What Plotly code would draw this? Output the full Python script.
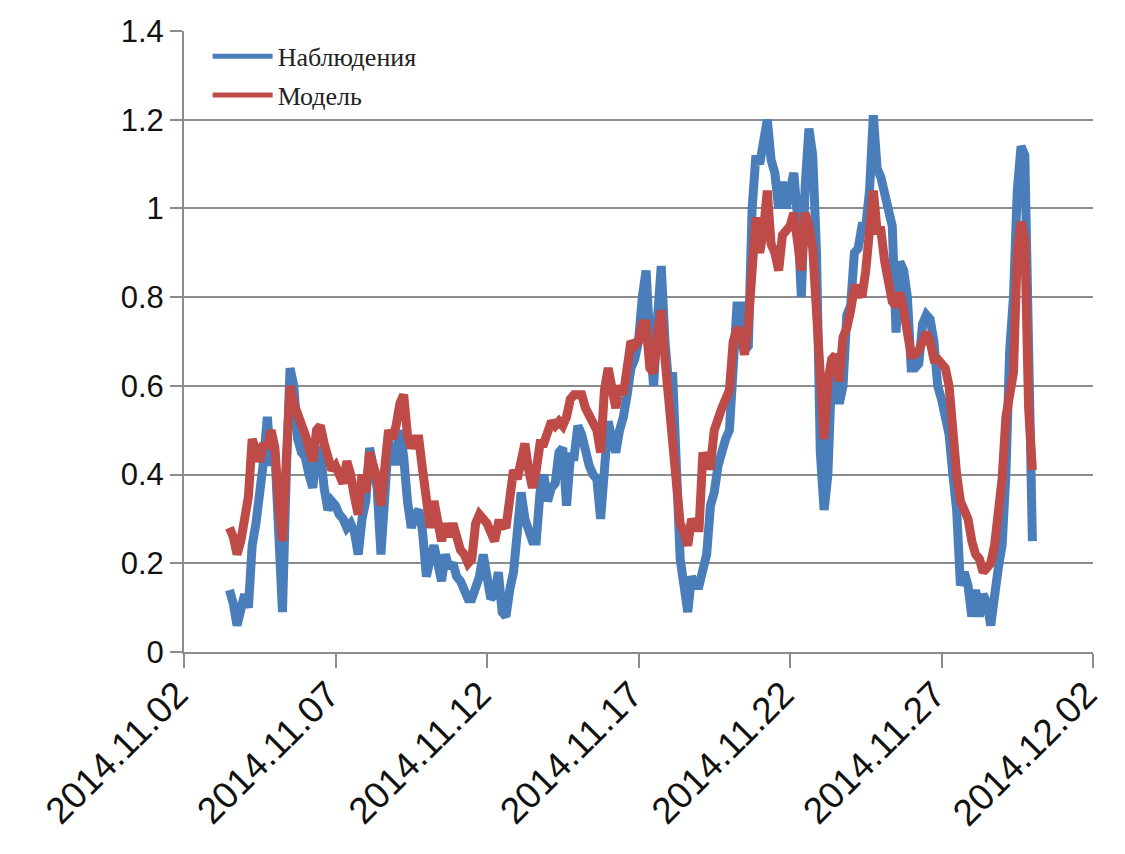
import pandas as pd
import plotly.graph_objects as go

# ---- data (3-hourly readings from the chart) ----
start_time = "2014-11-03 12:00"
step = "3h"

observations = [
    0.14, 0.11, 0.06, 0.10, 0.13, 0.10, 0.24, 0.29, 0.35, 0.43,
    0.53, 0.42, 0.45, 0.27, 0.09, 0.40, 0.64, 0.60, 0.48, 0.45,
    0.44, 0.40, 0.37, 0.46, 0.45, 0.37, 0.32, 0.34, 0.33, 0.31,
    0.30, 0.28, 0.29, 0.27, 0.22, 0.30,
    0.34, 0.46, 0.41, 0.37, 0.22, 0.33, 0.48, 0.43, 0.43, 0.50,
    0.44, 0.34, 0.28, 0.31, 0.32, 0.27, 0.17, 0.21, 0.24, 0.20,
    0.16, 0.22, 0.19, 0.20, 0.17, 0.16, 0.14, 0.12, 0.12, 0.15,
    0.17, 0.22, 0.18, 0.12, 0.13, 0.18, 0.09, 0.08, 0.14,
    0.18, 0.27, 0.36, 0.30, 0.27, 0.25, 0.25, 0.36, 0.40, 0.34,
    0.37, 0.38, 0.45, 0.46, 0.33, 0.44, 0.44, 0.51, 0.49, 0.44,
    0.42, 0.40, 0.39, 0.30, 0.42, 0.52, 0.48, 0.45, 0.50, 0.53,
    0.58, 0.64, 0.66, 0.70,
    0.80, 0.86, 0.70, 0.60, 0.75, 0.87, 0.70, 0.60, 0.63, 0.46,
    0.21, 0.15, 0.09, 0.17, 0.15, 0.15, 0.20, 0.22, 0.33, 0.36,
    0.42, 0.46, 0.48, 0.50, 0.65, 0.78, 0.78, 0.68, 0.69, 1.00,
    1.12, 1.10, 1.15, 1.20, 1.11, 1.08, 1.00, 1.06, 1.00, 1.04,
    1.08, 0.98,
    0.80, 1.05, 1.18, 1.12, 0.90, 0.45, 0.32, 0.40, 0.63, 0.62,
    0.56, 0.60, 0.76, 0.78, 0.90, 0.91, 0.96, 0.96, 1.04, 1.21,
    1.09, 1.07, 1.03, 1.00, 0.96, 0.72, 0.88, 0.86, 0.80, 0.64,
    0.64, 0.65, 0.74, 0.76, 0.75, 0.70, 0.60, 0.57, 0.53,
    0.49, 0.40, 0.32, 0.15, 0.18, 0.15, 0.08, 0.14, 0.08, 0.13,
    0.11, 0.06, 0.15, 0.19, 0.24, 0.40, 0.68, 0.80, 1.04, 1.14,
    1.12, 0.55, 0.25,
]

model = [
    0.28, 0.26, 0.22, 0.25, 0.30, 0.35, 0.48, 0.46, 0.43, 0.47,
    0.46, 0.50, 0.46, 0.33, 0.25, 0.43, 0.60, 0.56, 0.54, 0.52,
    0.49, 0.46, 0.43, 0.50, 0.51, 0.47, 0.43, 0.41, 0.42, 0.40,
    0.38, 0.43, 0.40, 0.35, 0.31, 0.40,
    0.36, 0.45, 0.42, 0.39, 0.33, 0.42, 0.50, 0.48, 0.51, 0.56,
    0.58, 0.49, 0.46, 0.48, 0.48, 0.41, 0.36, 0.28, 0.34, 0.30,
    0.25, 0.29, 0.26, 0.29, 0.25, 0.23, 0.22, 0.20, 0.21, 0.29,
    0.31, 0.30, 0.29, 0.27, 0.25, 0.29, 0.29, 0.28, 0.37,
    0.41, 0.39, 0.43, 0.47, 0.41, 0.37, 0.41, 0.47, 0.47, 0.49,
    0.52, 0.51, 0.52, 0.51, 0.53, 0.57, 0.58, 0.58, 0.58, 0.55,
    0.53, 0.52, 0.50, 0.45, 0.59, 0.64, 0.58, 0.55, 0.60, 0.58,
    0.64, 0.70, 0.69, 0.70,
    0.74, 0.74, 0.64, 0.63, 0.72, 0.77, 0.66, 0.56, 0.48, 0.39,
    0.29, 0.27, 0.24, 0.30, 0.28, 0.28, 0.45, 0.42, 0.42, 0.50,
    0.53, 0.55, 0.57, 0.59, 0.70, 0.73, 0.72, 0.67, 0.74, 0.90,
    0.98, 0.90, 0.95, 1.04, 0.92, 0.90, 0.86, 0.94, 0.95, 0.96,
    0.99, 0.92,
    0.86, 0.99, 0.96, 0.91, 0.75, 0.62, 0.48, 0.61, 0.66, 0.67,
    0.61, 0.71, 0.73, 0.77, 0.82, 0.82, 0.80, 0.86, 0.98, 1.04,
    0.95, 0.95, 0.88, 0.84, 0.79, 0.78, 0.81, 0.77, 0.70, 0.67,
    0.67, 0.68, 0.70, 0.72, 0.70, 0.66, 0.66, 0.65, 0.64,
    0.60, 0.49, 0.40, 0.34, 0.32, 0.30, 0.25, 0.22, 0.21, 0.18,
    0.19, 0.20, 0.24, 0.31, 0.39, 0.53, 0.60, 0.63, 0.90, 0.97,
    0.93, 0.55, 0.41,
]

series_names = ["Наблюдения", "Модель"]
series_colors = ["#4a7ebb", "#be4b48"]
x_range = ["2014-11-02", "2014-12-02"]
y_ticks = [0, 0.2, 0.4, 0.6, 0.8, 1, 1.2, 1.4]

n = min(len(observations), len(model))
times = pd.date_range(start=start_time, periods=n, freq=step)

fig = go.Figure()
for name, vals, col in zip(series_names, [observations[:n], model[:n]], series_colors):
    fig.add_trace(go.Scatter(
        x=times, y=vals, mode="lines", name=name,
        line=dict(color=col, width=9),
        legendgroup=name, showlegend=False,
    ))
# legend-only entries with a thinner sample line, as in the reference
for name, col in zip(series_names, series_colors):
    fig.add_trace(go.Scatter(
        x=[None], y=[None], mode="lines", name=name,
        line=dict(color=col, width=5),
        legendgroup=name, showlegend=True, hoverinfo="skip",
    ))

axis_grey = "#8c8c8c"
fig.update_layout(
    width=1125, height=854,
    margin=dict(l=176, r=40, t=23, b=210, autoexpand=False),
    paper_bgcolor="white", plot_bgcolor="white",
    showlegend=True,
    legend=dict(
        x=0.026, y=0.997, xanchor="left", yanchor="top",
        bgcolor="rgba(255,255,255,0)",
        font=dict(family="Liberation Serif", size=26, color="#222222"),
        tracegroupgap=2, itemwidth=60,
    ),
    font=dict(family="Liberation Sans", color="#111111"),
)
fig.update_xaxes(
    type="date", range=x_range,
    tick0=x_range[0], dtick=5 * 86400000, tickformat="%Y.%m.%d",
    tickangle=-45, tickfont=dict(size=37, family="Liberation Sans", color="#111111"),
    ticklabelshift=-7, ticklabelstandoff=-10,
    showgrid=False, showline=True, linecolor=axis_grey, linewidth=2,
    ticks="outside", ticklen=14, tickwidth=2, tickcolor=axis_grey,
    automargin=False, zeroline=False,
)
fig.update_yaxes(
    range=[0, 1.4], tickvals=y_ticks,
    tickfont=dict(size=31, family="Liberation Sans", color="#111111"),
    showgrid=True, gridcolor=axis_grey, gridwidth=2,
    showline=True, linecolor=axis_grey, linewidth=2,
    ticks="outside", ticklen=12, tickwidth=2, tickcolor=axis_grey,
    automargin=False, zeroline=False,
)

fig.write_html("out.html")
